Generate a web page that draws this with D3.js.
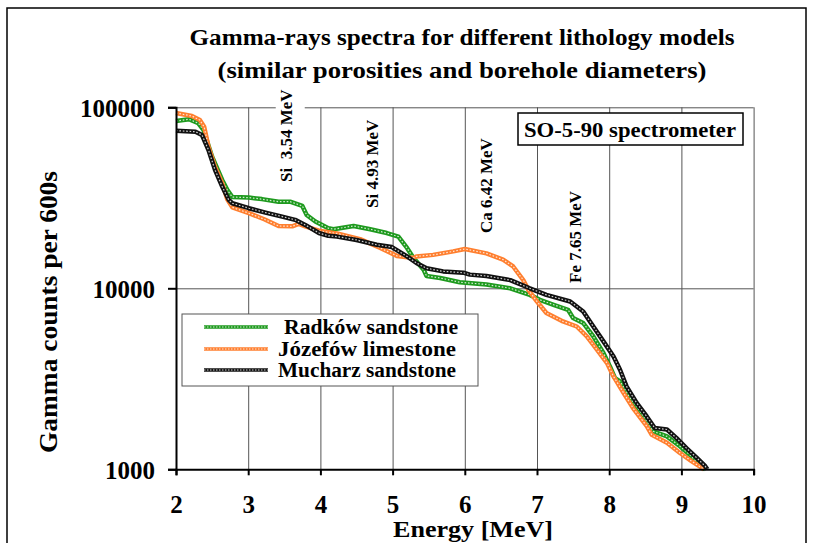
<!DOCTYPE html>
<meta charset="utf-8">
<style>
  body { margin: 0; background: #fff; }
  svg text { font-family: "Liberation Serif", "Times New Roman", serif; font-weight: bold; fill: #000; }
  .grid line { stroke: #555; stroke-width: 1; }
  .grid path { display: none; }
  .axis path, .axis line { stroke: #000; stroke-width: 2; }
</style>

<svg width="814" height="543"></svg>
<script src="https://cdn.jsdelivr.net/npm/d3@7"></script>

<script>
const svg = d3.select("svg");

// [energy MeV, counts per 600s]
const radkow = [
  [2.00, 84000], [2.18, 85900], [2.31, 81600], [2.38, 75000], [2.50, 53400], [2.64, 39700],
  [2.71, 35000], [2.78, 31900], [3.01, 31700], [3.19, 31100], [3.42, 30100], [3.58, 30100],
  [3.75, 28500], [3.81, 25400], [3.93, 23400], [4.11, 21500], [4.18, 21200], [4.46, 22100],
  [4.69, 21200], [4.92, 20200], [5.08, 19300], [5.20, 16700], [5.29, 14700], [5.43, 12650],
  [5.47, 11700], [5.66, 11400], [5.93, 10800], [6.30, 10500], [6.63, 10000], [6.90, 9200],
  [7.04, 8640], [7.23, 8110], [7.43, 7610], [7.50, 6850], [7.64, 6430], [7.78, 5420],
  [7.92, 4390], [8.01, 3700], [8.08, 3190], [8.15, 3060], [8.29, 2480], [8.43, 2090],
  [8.61, 1620], [8.80, 1520], [8.98, 1340], [9.12, 1200], [9.26, 1040], [9.33, 1000]
];
const jozefow = [
  [2.00, 93000], [2.22, 89500], [2.33, 85000], [2.39, 78000], [2.45, 60500], [2.54, 47000],
  [2.64, 38000], [2.71, 31000], [2.78, 28000], [3.01, 26000], [3.23, 24000], [3.42, 22100],
  [3.61, 22000], [3.70, 22700], [3.79, 22000], [3.98, 20800], [4.23, 20100], [4.55, 18700],
  [4.83, 16700], [5.06, 15100], [5.29, 14700], [5.33, 15000], [5.56, 15300], [5.84, 16000],
  [6.00, 16500], [6.30, 15600], [6.53, 14400], [6.67, 13200], [6.81, 11100], [6.88, 9800],
  [7.00, 8450], [7.13, 7300], [7.36, 6560], [7.55, 6150], [7.69, 5420], [7.83, 4580],
  [7.97, 3860], [8.06, 3260], [8.20, 2640], [8.33, 2180], [8.52, 1730], [8.59, 1550],
  [8.80, 1400], [8.98, 1230], [9.14, 1110], [9.28, 1020], [9.31, 1000]
];
const mucharz = [
  [2.00, 74300], [2.27, 73300], [2.36, 70300], [2.45, 58100], [2.54, 45100], [2.64, 36500],
  [2.73, 30800], [2.78, 29500], [3.01, 27700], [3.24, 26200], [3.47, 24900], [3.65, 23900],
  [3.79, 22400], [3.98, 20200], [4.11, 19500], [4.23, 19300], [4.50, 18500], [4.78, 17400],
  [4.99, 16900], [5.20, 15000], [5.33, 13800], [5.47, 12900], [5.70, 12400], [5.98, 12200],
  [6.07, 11900], [6.30, 11700], [6.63, 11100], [6.90, 10000], [7.13, 9200], [7.46, 8450],
  [7.64, 7450], [7.78, 6150], [7.92, 5090], [8.06, 4200], [8.15, 3550], [8.24, 2870],
  [8.38, 2325], [8.52, 1960], [8.63, 1690], [8.80, 1660], [8.93, 1490], [9.07, 1310],
  [9.21, 1160], [9.33, 1040], [9.36, 1000]
];

const seriesNames = ["Radków sandstone", "Józefów limestone", "Mucharz sandstone"];
const seriesColors = ["#1e9a1e", "#ff7f2f", "#111"];
const seriesData = [radkow, jozefow, mucharz];

const xTicks = [2, 3, 4, 5, 6, 7, 8, 9, 10];
const yTicks = [1000, 10000, 100000];

// peak markers: [label, energy where the text sits, counts at the text's lower end]
const peaks = [
  ["Si  3.54 MeV", 3.52, 38700],
  ["Si 4.93 MeV", 4.72, 27800],
  ["Ca 6.42 MeV", 6.30, 20200],
  ["Fe 7.65 MeV", 7.53, 10700]
];

const x = d3.scaleLinear().domain([2, 10]).range([176, 753.6]);
const y = d3.scaleLog().domain([1000, 100000]).range([469.3, 107.3]);

// outer frame
svg.append("rect")
  .attr("x", 7).attr("y", 8).attr("width", 799).attr("height", 560)
  .attr("fill", "none").attr("stroke", "#000").attr("stroke-width", 1.5);

// title
svg.append("text").attr("x", 462).attr("y", 45).attr("text-anchor", "middle")
  .attr("font-size", 24).attr("textLength", 545).attr("lengthAdjust", "spacingAndGlyphs")
  .text("Gamma-rays spectra for different lithology models");
svg.append("text").attr("x", 462).attr("y", 78).attr("text-anchor", "middle")
  .attr("font-size", 24).attr("textLength", 489).attr("lengthAdjust", "spacingAndGlyphs")
  .text("(similar porosities and borehole diameters)");

// grid
svg.append("g").attr("class", "grid")
  .attr("transform", "translate(0,469.3)")
  .call(d3.axisBottom(x).tickValues(xTicks.slice(1)).tickSize(-(469.3 - 107.3)).tickFormat(""));
svg.append("g").attr("class", "grid")
  .attr("transform", "translate(176,0)")
  .call(d3.axisLeft(y).tickValues([10000, 100000]).tickSize(-(753.6 - 176)).tickFormat(""));

// peak labels; the two Si labels sit on white boxes that cut the top grid line
peaks.forEach(function(p, i) {
  const px = x(p[1]), py = y(p[2]);
  if (i < 2) {
    svg.append("rect").attr("x", px - 10).attr("y", py - 96).attr("width", 29).attr("height", 100)
      .attr("fill", "#fff");
  }
  svg.append("text")
    .attr("transform", "translate(" + (px + 6) + "," + py + ") rotate(-90)")
    .attr("font-size", 17)
    .style("white-space", "pre")
    .text(p[0]);
});

// curves: coloured band with small hollow marks
const line = d3.line()
  .x(function(d) { return x(d[0]); })
  .y(function(d) { return y(d[1]); });

seriesData.forEach(function(s, i) {
  svg.append("path").datum(s).attr("d", line)
    .attr("fill", "none").attr("stroke", seriesColors[i]).attr("stroke-width", 4.5)
    .attr("stroke-linejoin", "round");
  svg.append("path").datum(s).attr("d", line)
    .attr("fill", "none").attr("stroke", "#fff").attr("stroke-width", 1.2)
    .attr("stroke-dasharray", "1.6,1.8").attr("opacity", 0.8);
});

// axes
const yAxis = svg.append("g").attr("class", "axis")
  .attr("transform", "translate(176,0)")
  .call(d3.axisLeft(y).tickValues(yTicks).tickSize(8).tickPadding(13).tickFormat(d3.format("d")));
yAxis.selectAll("text").attr("font-size", 25).attr("dy", "0.35em");

const xAxis = svg.append("g").attr("class", "axis")
  .attr("transform", "translate(0,469.3)")
  .call(d3.axisBottom(x).tickValues(xTicks).tickSize(6).tickPadding(20));
xAxis.selectAll("text").attr("font-size", 25);
svg.selectAll(".axis").attr("font-family", null);
svg.selectAll(".axis text").attr("fill", "#000");

// axis titles
svg.append("text").attr("x", 473).attr("y", 537).attr("text-anchor", "middle")
  .attr("font-size", 24).attr("textLength", 160).attr("lengthAdjust", "spacingAndGlyphs")
  .text("Energy [MeV]");
svg.append("text").attr("transform", "translate(57,312) rotate(-90)").attr("text-anchor", "middle")
  .attr("font-size", 25).attr("textLength", 282).attr("lengthAdjust", "spacingAndGlyphs")
  .text("Gamma counts per 600s");

// spectrometer box
svg.append("rect").attr("x", 518).attr("y", 113).attr("width", 225).attr("height", 32)
  .attr("fill", "#fff").attr("stroke", "#000").attr("stroke-width", 1.5);
svg.append("text").attr("x", 630).attr("y", 137).attr("text-anchor", "middle")
  .attr("font-size", 21).attr("textLength", 212).attr("lengthAdjust", "spacingAndGlyphs")
  .text("SO-5-90 spectrometer");

// legend
const legend = svg.append("g");
legend.append("rect").attr("x", 182).attr("y", 314).attr("width", 296).attr("height", 72)
  .attr("fill", "#fff").attr("stroke", "#555").attr("stroke-width", 1);
const legendY = [327, 349, 370];
seriesNames.forEach(function(n, i) {
  legend.append("line").attr("x1", 204).attr("x2", 268).attr("y1", legendY[i]).attr("y2", legendY[i])
    .attr("stroke", seriesColors[i]).attr("stroke-width", 3.5);
  legend.append("line").attr("x1", 204).attr("x2", 268).attr("y1", legendY[i]).attr("y2", legendY[i])
    .attr("stroke", "#fff").attr("stroke-width", 1).attr("stroke-dasharray", "1.5,1.5").attr("opacity", 0.8);
  legend.append("text").attr("x", i === 0 ? 284 : 278).attr("y", legendY[i] + 7)
    .attr("font-size", 20).attr("textLength", i === 0 ? 174 : 178).attr("lengthAdjust", "spacingAndGlyphs")
    .text(n);
});
</script>
